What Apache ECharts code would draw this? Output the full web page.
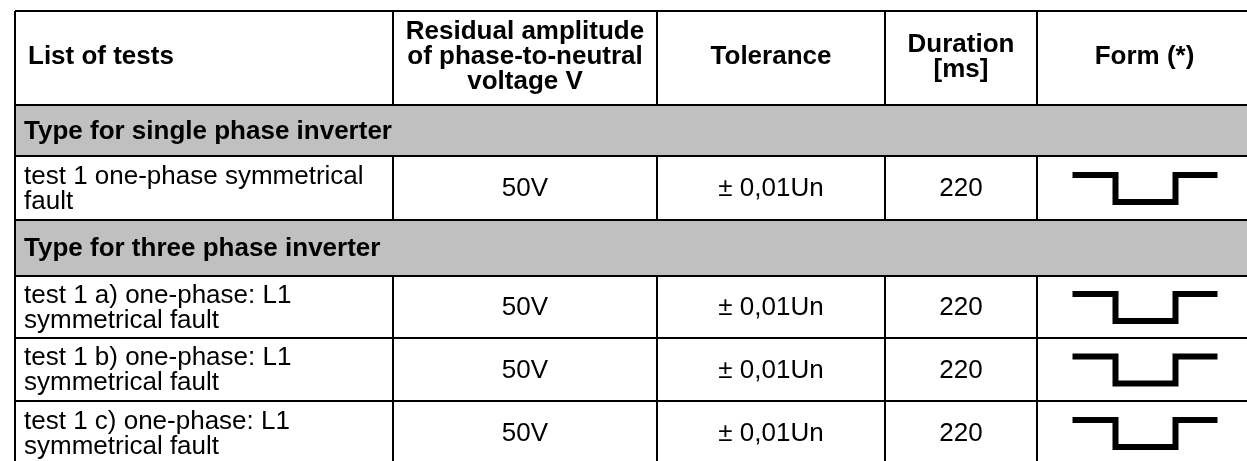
<!DOCTYPE html>
<html><head><meta charset="utf-8">
<script src="https://cdn.jsdelivr.net/npm/echarts@6/dist/echarts.min.js"></script>
<style>html,body{margin:0;padding:0;background:#fff}#main{width:1247px;height:461px}</style>
</head><body><div id="main"></div>
<script>
// ---- data ----
const columnHeaders = ['List of tests', 'Residual amplitude\nof phase-to-neutral\nvoltage V', 'Tolerance', 'Duration\n[ms]', 'Form (*)'];
const groupTitles = ['Type for single phase inverter', 'Type for three phase inverter'];
const testNames = [
  'test 1 one-phase symmetrical\nfault',
  'test 1 a) one-phase: L1\nsymmetrical fault',
  'test 1 b) one-phase: L1\nsymmetrical fault',
  'test 1 c) one-phase: L1\nsymmetrical fault'
];
const testGroup = [0, 1, 1, 1];
const residualAmplitude = ['50V', '50V', '50V', '50V'];
const tolerance = ['± 0,01Un', '± 0,01Un', '± 0,01Un', '± 0,01Un'];
const durationMs = ['220', '220', '220', '220'];
const waveForm = ['dip', 'dip', 'dip', 'dip'];

// ---- layout (not data) ----
const colWidths = [378, 264, 228, 152, 215];
const rowHeights = [94, 51, 64, 56, 62, 63, 64];
const BOLD = 'bold 26px "Liberation Sans", Arial, sans-serif';
const REG = '26px "Liberation Sans", Arial, sans-serif';
const GRAY = '#c0c0c0';

const colEdges = [0];
colWidths.forEach(w => colEdges.push(colEdges[colEdges.length - 1] + w));

// build rows
const rows = [{ kind: 'header' }];
groupTitles.forEach((g, gi) => {
  rows.push({ kind: 'group', text: g });
  testNames.forEach((t, ti) => { if (testGroup[ti] === gi) rows.push({ kind: 'test', idx: ti }); });
});
const rowEdges = [0];
rows.forEach((r, i) => rowEdges.push(rowEdges[rowEdges.length - 1] + rowHeights[i]));

// cells: value = [colStart, colEnd, rowIndex]
const cells = [];
rows.forEach((r, ri) => {
  if (r.kind === 'header') {
    columnHeaders.forEach((h, ci) => cells.push({ value: [ci, ci + 1, ri], text: h, kind: 'header' }));
  } else if (r.kind === 'group') {
    cells.push({ value: [0, colWidths.length, ri], text: r.text, kind: 'group' });
  } else {
    const i = r.idx;
    const vals = [testNames[i], residualAmplitude[i], tolerance[i], durationMs[i], waveForm[i]];
    vals.forEach((v, ci) => cells.push({ value: [ci, ci + 1, ri], text: v, kind: ci === 4 ? 'form' : 'test' }));
  }
});

function renderItem(params, api) {
  const c0 = api.value(0), c1 = api.value(1), r = api.value(2);
  const cell = cells[params.dataIndex];
  const p0 = api.coord([colEdges[c0], rowEdges[r]]);
  const p1 = api.coord([colEdges[c1], rowEdges[r + 1]]);
  const x0 = p0[0], y0 = p0[1], x1 = p1[0], y1 = p1[1];
  const cx = (x0 + x1) / 2, cy = (y0 + y1) / 2;
  const children = [];
  if (cell.kind === 'group') {
    children.push({ type: 'rect', shape: { x: x0, y: y0, width: x1 - x0, height: y1 - y0 }, style: { fill: GRAY } });
  }
  // top border and left border
  children.push({ type: 'line', shape: { x1: x0, y1: y0, x2: x1, y2: y0 }, style: { stroke: '#000', lineWidth: 2 } });
  children.push({ type: 'line', shape: { x1: x0, y1: y0, x2: x0, y2: y1 }, style: { stroke: '#000', lineWidth: 2 } });
  if (cell.kind === 'form') {
    const pts = [[-72, -13], [-29, -13], [-29, 14], [31, 14], [31, -13], [73, -13]].map(p => [cx + p[0], cy + p[1]]);
    children.push({ type: 'polyline', shape: { points: pts }, style: { stroke: '#000', lineWidth: 6, fill: null, lineJoin: 'miter' } });
  } else {
    const left = c0 === 0;
    const bold = cell.kind === 'header' || cell.kind === 'group';
    children.push({
      type: 'text',
      style: {
        text: cell.text,
        x: left ? x0 + (cell.kind === 'header' ? 13 : 9) : cx,
        y: cy + (cell.kind === 'header' ? -1 : 1),
        align: left ? 'left' : 'center',
        verticalAlign: 'middle',
        font: bold ? BOLD : REG,
        lineHeight: 25,
        fill: '#000'
      }
    });
  }
  return { type: 'group', children };
}

const chart = echarts.init(document.getElementById('main'), null, { renderer: 'canvas' });
chart.setOption({
  animation: false,
  grid: { left: 15, top: 11, right: 0, bottom: 0 },
  xAxis: { type: 'value', min: 0, max: 1232, show: false },
  yAxis: { type: 'value', min: 0, max: 450, inverse: true, show: false },
  series: [{
    type: 'custom',
    renderItem,
    data: cells,
    encode: { x: [0, 1], y: 2 },
    silent: true
  }]
});
</script></body></html>
